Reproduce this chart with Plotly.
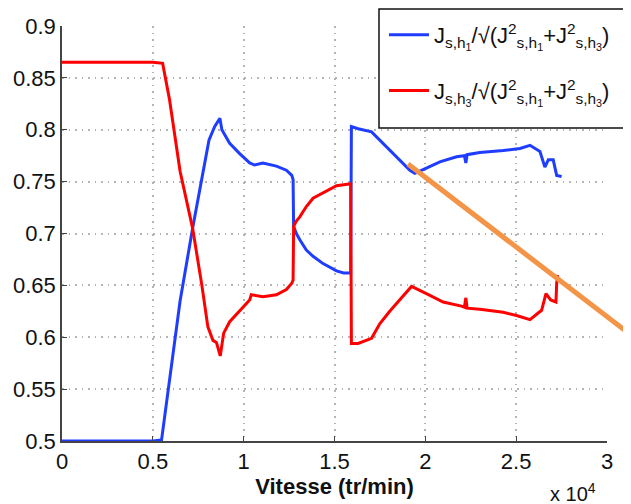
import plotly.graph_objects as go

# Speed in units of 10^4 tr/min
x_blue = [0, 0.50, 0.548, 0.57, 0.592, 0.65, 0.719, 0.77, 0.809, 0.840, 0.869, 0.880, 0.890, 0.923, 0.978,
          1.033, 1.06, 1.106, 1.180, 1.235, 1.265, 1.272, 1.275, 1.290, 1.309, 1.345, 1.382, 1.437, 1.511,
          1.550, 1.580, 1.589, 1.593, 1.630, 1.704, 1.749, 1.804, 1.860, 1.915, 1.942, 1.970, 2.006, 2.080,
          2.172, 2.215, 2.223, 2.230, 2.300, 2.429, 2.521, 2.576, 2.631, 2.658, 2.677, 2.704, 2.723, 2.750]
y_blue = [0.500, 0.500, 0.501, 0.530, 0.559, 0.635, 0.705, 0.755, 0.790, 0.803, 0.811, 0.800, 0.797, 0.787, 0.777,
          0.768, 0.766, 0.768, 0.765, 0.761, 0.756, 0.752, 0.707, 0.700, 0.694, 0.684, 0.678, 0.671, 0.664,
          0.662, 0.662, 0.662, 0.803, 0.801, 0.798, 0.790, 0.780, 0.771, 0.761, 0.758, 0.760, 0.763, 0.769,
          0.774, 0.775, 0.768, 0.776, 0.778, 0.780, 0.782, 0.785, 0.779, 0.764, 0.771, 0.771, 0.756, 0.755]

x_red = [0, 0.50, 0.554, 0.592, 0.65, 0.719, 0.77, 0.803, 0.831, 0.850, 0.871, 0.890, 0.923, 0.978,
         1.033, 1.042, 1.106, 1.180, 1.235, 1.265, 1.272, 1.275, 1.290, 1.309, 1.345, 1.382, 1.437, 1.511,
         1.550, 1.580, 1.589, 1.593, 1.630, 1.704, 1.749, 1.804, 1.860, 1.924, 2.006, 2.098, 2.199,
         2.215, 2.223, 2.230, 2.300, 2.429, 2.502, 2.576, 2.640, 2.664, 2.690, 2.719, 2.723, 2.728]
y_red = [0.865, 0.865, 0.864, 0.829, 0.760, 0.705, 0.650, 0.610, 0.597, 0.595, 0.582, 0.604, 0.615, 0.626,
         0.636, 0.641, 0.639, 0.641, 0.646, 0.652, 0.655, 0.707, 0.712, 0.716, 0.726, 0.734, 0.739, 0.746,
         0.747, 0.748, 0.748, 0.594, 0.594, 0.599, 0.613, 0.625, 0.636, 0.649, 0.642, 0.634, 0.630,
         0.629, 0.638, 0.628, 0.627, 0.624, 0.621, 0.617, 0.626, 0.642, 0.636, 0.634, 0.652, 0.660]

x_ticks = [0, 0.5, 1, 1.5, 2, 2.5, 3]
x_tick_labels = ["0", "0.5", "1", "1.5", "2", "2.5", "3"]
y_ticks = [0.5, 0.55, 0.6, 0.65, 0.7, 0.75, 0.8, 0.85, 0.9]
y_tick_labels = ["0.5", "0.55", "0.6", "0.65", "0.7", "0.75", "0.8", "0.85", "0.9"]

name_blue = "J<sub>s,h<sub>1</sub></sub>/√(J<sup>2</sup><sub>s,h<sub>1</sub></sub>+J<sup>2</sup><sub>s,h<sub>3</sub></sub>)"
name_red = "J<sub>s,h<sub>3</sub></sub>/√(J<sup>2</sup><sub>s,h<sub>1</sub></sub>+J<sup>2</sup><sub>s,h<sub>3</sub></sub>)"

FONT = "Liberation Sans, Arial, Helvetica, sans-serif"

fig = go.Figure()
fig.add_trace(go.Scatter(x=x_blue, y=y_blue, mode="lines", name=name_blue, legendgroup="b",
                         line=dict(color="#1f3dff", width=3)))
fig.add_trace(go.Scatter(x=x_red, y=y_red, mode="lines", name=name_red, legendgroup="r",
                         line=dict(color="#ff0000", width=3)))

axis_common = dict(showline=True, linecolor="#444444", linewidth=1.5, ticks="inside", ticklen=5,
                   tickcolor="#444444", showgrid=True, gridcolor="#b4b4b4", griddash="1.5px,5px",
                   gridwidth=1.5, zeroline=False, tickfont=dict(family=FONT, size=22, color="#111111"))

fig.update_xaxes(range=[0, 3], tickvals=x_ticks, ticktext=x_tick_labels,
                 title=dict(text="<b>Vitesse (tr/min)</b>", font=dict(family=FONT, size=22, color="#111111"),
                            standoff=0),
                 **axis_common)
fig.update_yaxes(range=[0.5, 0.9], tickvals=y_ticks, ticktext=y_tick_labels, **axis_common)

# The page body has an 8px margin; margins below compensate so the plot sits where the reference has it.
fig.update_layout(
    width=631, height=504,
    paper_bgcolor="white", plot_bgcolor="white",
    margin=dict(l=54, r=32, t=18, b=71, autoexpand=False),
    font=dict(family=FONT, size=22, color="#111111"),
    showlegend=True,
    legend=dict(x=0.5908, y=1.0289, xanchor="left", yanchor="top", bgcolor="rgba(0,0,0,0)",
                borderwidth=0, font=dict(family=FONT, size=22, color="#111111"),
                tracegroupgap=24, itemwidth=40),
    annotations=[dict(text="x 10<sup>4</sup>", xref="paper", yref="paper", x=0.983, y=-0.123,
                      xanchor="right", yanchor="middle", showarrow=False,
                      font=dict(family=FONT, size=20, color="#111111"))],
    shapes=[
        dict(type="rect", xref="paper", yref="paper",
             x0=(371 - 54) / 545, x1=(660 - 54) / 545,
             y0=1 - (120 - 18) / 415, y1=1 + (18 - 1) / 415,
             fillcolor="white", line=dict(color="#111111", width=1.5), layer="above"),
        dict(type="line", xref="paper", yref="paper",
             x0=(400 - 54) / 545, y0=1 - (156 - 18) / 415,
             x1=(660 - 54) / 545, y1=1 - (355.4 - 18) / 415,
             line=dict(color="#f39447", width=5), layer="above"),
    ],
)

fig.write_html("out.html")
